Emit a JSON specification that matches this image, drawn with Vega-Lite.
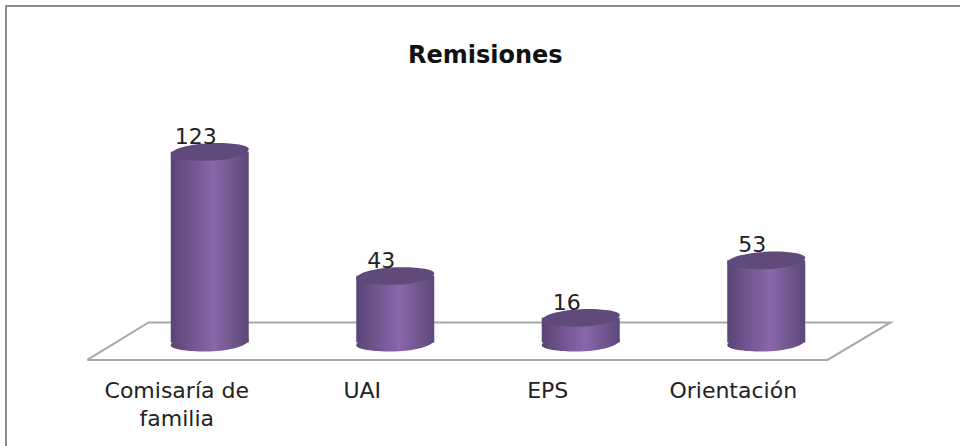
{"$schema":"https://vega.github.io/schema/vega-lite/v6.json","width":960,"height":446,"padding":{"left":6,"top":6,"right":0,"bottom":0},"autosize":{"type":"none"},"background":"white","view":{"stroke":"#8c8c8c","strokeWidth":2,"fill":"white"},"title":{"text":"Remisiones","font":"DejaVu Sans","fontWeight":"bold","fontSize":24,"color":"#111111","anchor":"start","dx":402,"offset":-62},"datasets":{"bars":[{"cat":"Comisaría de familia","value":123},{"cat":"UAI","value":43},{"cat":"EPS","value":16},{"cat":"Orientación","value":53}],"floor":[{"u":-0.16,"v":-11.2,"o":1},{"u":3.83,"v":-11.2,"o":2},{"u":4.17,"v":13,"o":3},{"u":0.17,"v":13,"o":4},{"u":-0.16,"v":-11.2,"o":5}]},"layer":[{"data":{"name":"floor"},"mark":{"type":"line","color":"#a8a8a8","strokeWidth":2},"encoding":{"x":{"field":"u","type":"quantitative","scale":{"domain":[0,4],"range":[111,853],"nice":false,"zero":false},"axis":null},"y":{"field":"v","type":"quantitative","scale":{"domain":[-66.7,217],"range":[440,0],"nice":false,"zero":false},"axis":null},"order":{"field":"o"}}},{"data":{"name":"bars"},"encoding":{"x":{"field":"cat","type":"nominal","sort":null,"scale":{"domain":["Comisaría de familia","UAI","EPS","Orientación"],"range":[111,853],"paddingInner":0,"paddingOuter":0},"axis":{"title":null,"domain":false,"ticks":false,"grid":false,"labelAngle":0,"labelFont":"DejaVu Sans","labelFontSize":22,"labelColor":"#222222","labelOffset":-33,"offset":-90,"labelPadding":18,"labelLimit":300,"labelLineHeight":28,"labelExpr":"datum.label=='Comisaría de familia'?['Comisaría de','familia']:datum.label"}},"y":{"field":"value","type":"quantitative","scale":{"domain":[-66.7,217],"range":[440,0],"nice":false,"zero":false},"axis":null}},"layer":[{"mark":{"type":"point","filled":true,"opacity":1,"size":6084,"shape":"M-1 0.07 C-1 0.18 -0.5 0.24 0 0.23 C0.5 0.22 1 0.08 1 -0.07 C1 -0.18 0.5 -0.24 0 -0.22 C-0.5 -0.2 -1 -0.08 -1 0.07 Z","fill":{"gradient":"linear","x1":0,"x2":1,"y1":0,"y2":0,"stops":[{"offset":0,"color":"#5a4476"},{"offset":0.55,"color":"#8967aa"},{"offset":1,"color":"#5c4878"}]}},"encoding":{"y":{"datum":0,"type":"quantitative"}}},{"mark":{"type":"bar","width":78,"fill":{"gradient":"linear","x1":0,"x2":1,"y1":0,"y2":0,"stops":[{"offset":0,"color":"#5a4476"},{"offset":0.55,"color":"#8967aa"},{"offset":1,"color":"#5c4878"}]}},"encoding":{"y2":{"datum":0}}},{"mark":{"type":"point","filled":true,"opacity":1,"size":6084,"color":"#604a7b","shape":"M-1 0.07 C-1 0.18 -0.5 0.24 0 0.23 C0.5 0.22 1 0.08 1 -0.07 C1 -0.18 0.5 -0.24 0 -0.22 C-0.5 -0.2 -1 -0.08 -1 0.07 Z"}},{"mark":{"type":"text","font":"DejaVu Sans","fontSize":22,"color":"#222222","dx":-14,"dy":-15,"baseline":"middle"},"encoding":{"text":{"field":"value","type":"quantitative"}}}]}],"resolve":{"scale":{"x":"independent"}}}
